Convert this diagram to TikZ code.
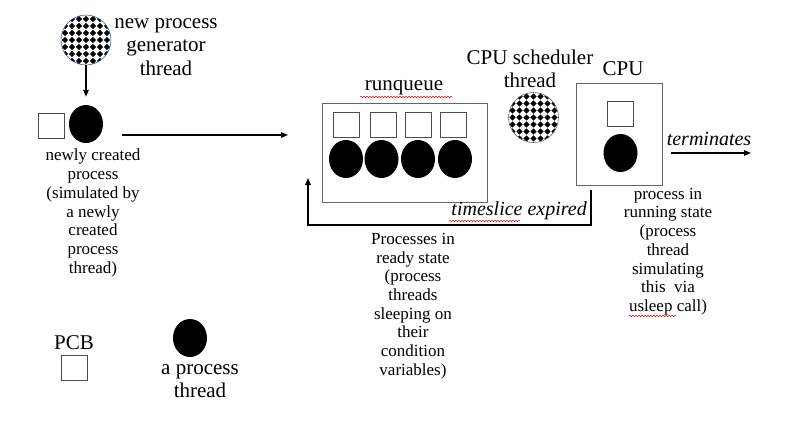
\documentclass[tikz,border=0pt]{standalone}
\usepackage{fontspec}
\setmainfont{Liberation Serif}
\usetikzlibrary{arrows.meta,shapes.geometric,decorations.pathmorphing}
\definecolor{genblue}{RGB}{70,100,160}
\begin{document}
\begin{tikzpicture}[x=1pt,y=-1pt,
 big/.style={font=\fontsize{21}{23.5}\selectfont, align=center, inner sep=0pt},
 bigit/.style={font=\fontsize{20}{23}\selectfont\itshape, inner sep=0pt},
 small/.style={font=\fontsize{17}{18.7}\selectfont, align=center, inner sep=0pt},
 pcb/.style={draw=black!70, line width=0.8pt, minimum width=26pt, minimum height=25pt, inner sep=0pt},
 proc/.style={ellipse, fill=black, minimum width=34pt, minimum height=38pt, inner sep=0pt},
 box/.style={draw=black!60, line width=1pt, inner sep=0pt},
 arr/.style={-{Triangle[length=7pt,width=5.5pt]}, line width=1.4pt},
 checker/.style={circle, minimum size=50pt, inner sep=0pt, draw=#1, line width=0.6pt,
   path picture={\foreach \i in {-4,...,4}{\foreach \j in {-4,...,4}{
     \fill[black] ([shift={(\i*7pt,\j*7pt)}]path picture bounding box.center)
       +(0,3.1pt) -- +(3.1pt,0) -- +(0,-3.1pt) -- +(-3.1pt,0) -- cycle;}}}},
 squig/.style={red, line width=0.5pt, decorate, decoration={snake, amplitude=0.8pt, segment length=3pt}}
]
\useasboundingbox (0,0) rectangle (788,421);

% new process generator
\node[checker=genblue] (gen) at (86,40) {};
\node[big] (gentxt) at (166,47) {new process\\generator\\thread};
\node[pcb] (newPCB) at (51.5,126) {};
\node[proc] (newP) at (86,124) {};
\node[small] (newtxt) at (93,213) {newly created\\process\\(simulated by\\a newly\\created\\process\\thread)};
\draw[arr] (gen.south) -- ([yshift=8pt]newP.north);
\coordinate (a1) at (122,135);
\coordinate (a2) at (288,135);
\draw[arr] (a1) -- (a2);

% runqueue
\node[box, minimum width=165pt, minimum height=99pt] (rq) at (404.5,152.5) {};
\node[big] (rqlabel) at (404,88) {runqueue};
\node[pcb] (q1) at (346,124.5) {};
\node[pcb] (q2) at (383.5,124.5) {};
\node[pcb] (q3) at (418,124.5) {};
\node[pcb] (q4) at (453,124.5) {};
\node[proc] (p1) at (346,159) {};
\node[proc] (p2) at (381.5,159) {};
\node[proc] (p3) at (418,159) {};
\node[proc] (p4) at (455,159) {};
\node[small] (readytxt) at (413,306) {Processes in\\ready state\\(process\\threads\\sleeping on\\their\\condition\\variables)};

% scheduler
\node[big] (schedtxt) at (530,69) {CPU scheduler\\thread};
\node[checker=black!60] (sched) at (533.5,117.5) {};

% CPU
\node[box, minimum width=86pt, minimum height=102pt] (cpu) at (619,134) {};
\node[big] (cpulabel) at (623,69) {CPU};
\node[pcb] (cpuPCB) at (620,114) {};
\node[proc] (cpuP) at (620.5,153) {};
\node[bigit] (term) at (709,139) {terminates};
\coordinate (t1) at (671,153);
\coordinate (t2) at (751,153);
\draw[arr] (t1) -- (t2);
\node[small] (runtxt) at (668,251.5) {process in\\running state\\(process\\thread\\simulating\\this\ \ via\\usleep call)};

% timeslice expired loop
\coordinate (r1) at (591,190);
\coordinate (rb) at (308,225);
\coordinate (r2) at (308,178);
\draw[arr] (r1) |- (rb) -- (r2);
\node[bigit, anchor=east] (ts) at (587,211) {timeslice expired};

% spell-check squiggles
\draw[squig] (360,97) -- (452,97);
\draw[squig] (449,221) -- (520,221);
\draw[squig] (629,316) -- (676,316);

% legend
\node[big] (pcblabel) at (74,343) {PCB};
\node[pcb] (legPCB) at (74.5,368) {};
\node[proc] (legP) at (190,338) {};
\node[big] (legtxt) at (200,381) {a process\\thread};
\end{tikzpicture}
\end{document}
